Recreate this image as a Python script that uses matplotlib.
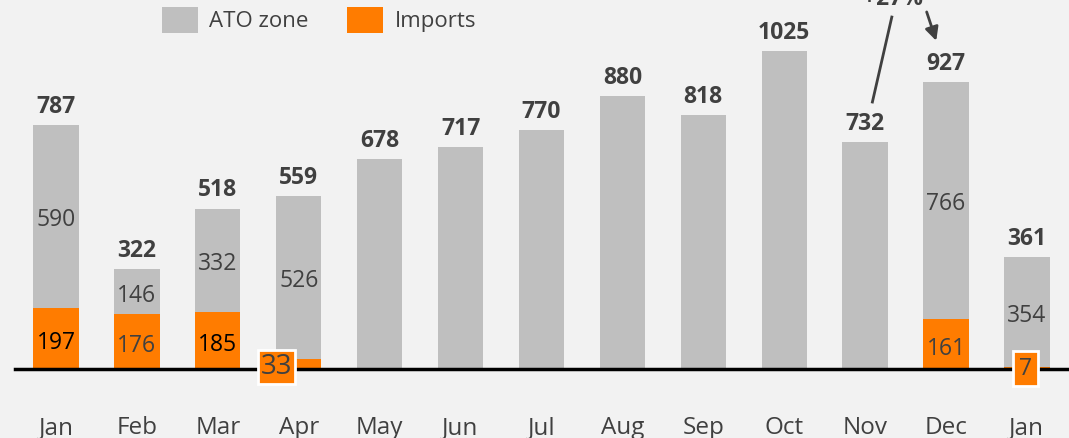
import matplotlib

matplotlib.use("Agg")

import matplotlib.pyplot as plt
from matplotlib.patches import Patch

months = ["Jan", "Feb", "Mar", "Apr", "May", "Jun", "Jul",
          "Aug", "Sep", "Oct", "Nov", "Dec", "Jan"]
totals = [787, 322, 518, 559, 678, 717, 770, 880, 818, 1025, 732, 927, 361]
# split only known for some months (None = no breakdown)
imports = [197, 176, 185, 33, None, None, None, None, None, None, None, 161, 7]
ato_zone = [590, 146, 332, 526, None, None, None, None, None, None, None, 766, 354]
import_label_colors = ["black", "#404040", "black", None, None, None, None,
                       None, None, None, None, "#404040", None]

GRAY = "#BFBFBF"
ORANGE = "#FF7C00"
TEXT = "#404040"
BG = "#F2F2F2"

plt.rcParams["font.family"] = ["Open Sans", "DejaVu Sans"]

fig = plt.figure(figsize=(10.69, 4.38), dpi=100, facecolor=BG)
ax = fig.add_axes([15 / 1069, 69 / 438, 1 - 15 / 1069, 369 / 438])
ax.set_facecolor(BG)

x = list(range(len(months)))
w = 0.56
for i in x:
    if imports[i] is None:
        ax.bar(i, totals[i], w, color=GRAY, zorder=1)
    else:
        ax.bar(i, imports[i], w, color=ORANGE, zorder=1)
        ax.bar(i, ato_zone[i], w, bottom=imports[i], color=GRAY, zorder=1)
        ax.text(i, imports[i] + ato_zone[i] / 2 - 13, str(ato_zone[i]), ha="center",
                va="center", fontsize=16.5, color=TEXT)
        if imports[i] > 60:
            ax.text(i, imports[i] / 2 - 15, str(imports[i]), ha="center", va="center",
                    fontsize=16.5, color=import_label_colors[i])
    ax.text(i, totals[i] + 58, str(totals[i]), ha="center", va="center",
            fontsize=16.5, fontweight="bold", color=TEXT)

# small import values shown in boxes below the bars
ax.text(2.73, 6, str(imports[3]), ha="center", va="center", fontsize=20,
        color=TEXT, zorder=5,
        bbox=dict(boxstyle="square,pad=0.1", facecolor=ORANGE, edgecolor="white", lw=2))
ax.text(11.98, 1, str(imports[12]), ha="center", va="center", fontsize=16.5,
        color=TEXT, zorder=5,
        bbox=dict(boxstyle="square,pad=0.25", facecolor=ORANGE, edgecolor="white", lw=2))

# growth callout Nov -> Dec
ax.plot([10.09, 10.33], [861, 1135], color=TEXT, lw=2, clip_on=False)
ax.annotate("", xy=(10.89, 1050), xytext=(10.75, 1160),
            arrowprops=dict(arrowstyle="-|>", color=TEXT, lw=2, mutation_scale=20),
            annotation_clip=False)
ax.text(10.35, 1192, "+27%", ha="center", va="center", fontsize=16.5,
        fontweight="bold", color=TEXT, clip_on=False)

ax.set_xlim(-0.507, 12.52)
ax.set_ylim(0, 1190)
ax.set_xticks(x)
ax.set_xticklabels(months, fontsize=17.5, color=TEXT)
ax.tick_params(axis="x", length=0, pad=34)
ax.set_yticks([])
for s in ("top", "right", "left"):
    ax.spines[s].set_visible(False)
ax.spines["bottom"].set_linewidth(2.5)
ax.spines["bottom"].set_color("black")

handles = [Patch(facecolor=GRAY, label="ATO zone"), Patch(facecolor=ORANGE, label="Imports")]
fig.legend(handles=handles, loc="upper left", bbox_to_anchor=(162 / 1069, 1 - 7 / 438),
           ncol=2, frameon=False, fontsize=16, labelcolor=TEXT, handlelength=1.62,
           handleheight=1.4, handletextpad=0.5, columnspacing=1.75,
           borderpad=0, borderaxespad=0)

fig.savefig("out.png", dpi=100, facecolor=BG)
